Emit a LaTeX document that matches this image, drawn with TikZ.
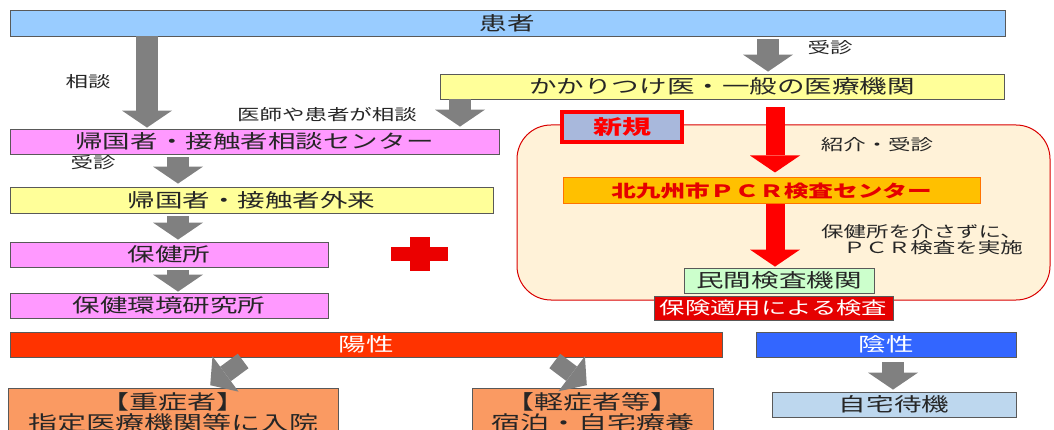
\documentclass[tikz,border=0pt]{standalone}
\usepackage{fontspec}
\newfontfamily\jp[FakeStretch=1.45]{Noto Sans CJK JP}
\usetikzlibrary{arrows.meta}

\definecolor{kanjablue}{HTML}{99CCFF}
\definecolor{boxyellow}{HTML}{FFFF99}
\definecolor{boxpink}{HTML}{FF99FF}
\definecolor{boxorange}{HTML}{FA9A62}
\definecolor{posred}{HTML}{FF3300}
\definecolor{negblue}{HTML}{3366FF}
\definecolor{homeblue}{HTML}{BDD7EE}
\definecolor{peach}{HTML}{FFF2D8}
\definecolor{pcrorange}{HTML}{FFC000}
\definecolor{labgreen}{HTML}{CCFFCC}
\definecolor{newblue}{HTML}{A8B8DC}
\definecolor{textgray}{HTML}{262626}

\tikzset{
	box/.style={draw=black!65, line width=0.8pt, inner sep=0pt, text=textgray,
		font=\jp\fontsize{19}{21}\selectfont},
	lbl/.style={inner sep=0pt, text=textgray, font=\jp\fontsize{15.5}{16}\selectfont},
	grayarrow/.style={draw=black!50, line width=22pt,
		-{Triangle[width=50pt,length=17pt,line width=0pt]}},
	diagarrow/.style={draw=black!50, line width=18pt,
		-{Triangle[width=44pt,length=19pt,line width=0pt]}},
	redarrow/.style={draw=red, line width=19pt,
		-{Triangle[width=50pt,length=17pt,line width=0pt]}},
}

\begin{document}
\begin{tikzpicture}[x=1pt,y=-1pt]
	\useasboundingbox (0,0) rectangle (1054,430);
	\clip (0,0) rectangle (1054,430);

	%new PCR route, background
	\draw[red!85!black, fill=peach, line width=1pt, rounded corners=34pt] (517,125) rectangle (1050,300);

	%left route
	\node[box, fill=kanjablue, minimum width=995, minimum height=26] (kanja) at (507.5,23) {患者};
	\node[box, fill=boxyellow, minimum width=564, minimum height=25] (kakari) at (722,86.5) {かかりつけ医・一般の医療機関};
	\node[box, fill=boxpink, minimum width=489, minimum height=25] (soudan) at (254.5,141.5) {帰国者・接触者相談センター};
	\node[box, fill=boxyellow, minimum width=483, minimum height=26] (gairai) at (251.5,200) {帰国者・接触者外来};
	\node[box, fill=boxpink, minimum width=318, minimum height=25] (hokenjo) at (169,254.5) {保健所};
	\node[box, fill=boxpink, minimum width=318, minimum height=25] (kanken) at (169,305.5) {保健環境研究所};

	%right route
	\node[box, draw=red, line width=3.5pt, fill=newblue, text=red, minimum width=120, minimum height=30,
		font=\jp\bfseries\fontsize{20}{22}\selectfont] (shinki) at (622,127) {新規};
	\node[box, draw=orange!90!red, line width=1pt, fill=pcrorange, text=red!90!black, minimum width=417, minimum height=26,
		font=\jp\bfseries\fontsize{17}{19}\selectfont] (pcr) at (771.5,191) {北九州市ＰＣＲ検査センター};
	\node[box, fill=labgreen, minimum width=190, minimum height=25] (minkan) at (779,280.5) {民間検査機関};
	\node[box, fill=red!90!black, text=white, minimum width=239, minimum height=24,
		font=\jp\fontsize{17.5}{19}\selectfont] (hoken) at (773.5,308) {保険適用による検査};

	%results
	\node[box, fill=posred, text=white, minimum width=712, minimum height=25] (yousei) at (366,344.5) {陽性};
	\node[box, fill=negblue, text=white, minimum width=260, minimum height=25] (insei) at (886,344.5) {陰性};
	\node[box, fill=boxorange, align=center, minimum width=330, minimum height=49,
		font=\jp\fontsize{20}{21}\selectfont] (juusho) at (173,412.5) {【重症者】\\指定医療機関等に入院};
	\node[box, fill=boxorange, align=center, minimum width=241, minimum height=49,
		font=\jp\fontsize{20}{21}\selectfont] (keishou) at (592.5,412.5) {【軽症者等】\\宿泊・自宅療養};
	\node[box, fill=homeblue, minimum width=244, minimum height=25] (jitaku) at (894,404.5) {自宅待機};

	%gray arrows
	\draw[grayarrow, shorten >=1pt] (kanja.south -| 147,0) -- (soudan.north -| 147,0);
	\draw[grayarrow, shorten <=3pt, shorten >=2pt] (kanja.south -| 768,0) -- (kakari.north -| 768,0);
	\draw[grayarrow, shorten >=2pt] (kakari.south -| 460,0) -- (soudan.north -| 460,0);
	\draw[grayarrow, shorten <=3pt, shorten >=3pt] (soudan.south -| 178,0) -- (gairai.north -| 178,0);
	\draw[grayarrow, shorten <=3pt, shorten >=2pt] (gairai.south -| 178,0) -- (hokenjo.north -| 178,0);
	\draw[grayarrow, shorten <=3pt, shorten >=1pt] (hokenjo.south -| 178,0) -- (kanken.north -| 178,0);
	\draw[grayarrow, shorten <=5pt, shorten >=2pt] (insei.south -| 893,0) -- (jitaku.north -| 893,0);
	\draw[diagarrow, shorten <=6pt, shorten >=4pt] (yousei.south -| 248,0) -- (juusho.north -| 207,0);
	\draw[diagarrow, shorten <=6pt, shorten >=4pt] (yousei.south -| 550,0) -- (keishou.north -| 590,0);

	%red arrows
	\draw[redarrow, shorten <=8pt, shorten >=5pt] (kakari.south -| 775,0) -- (pcr.north -| 775,0);
	\draw[redarrow, shorten >=1pt] (pcr.south -| 775,0) -- (minkan.north -| 775,0);

	%plus sign
	\fill[red!92!black] (391,247) rectangle (448,261);
	\fill[red!92!black] (410,237) rectangle (430,271);

	%arrow labels
	\node[lbl] (l1) at (88,82) {相談};
	\node[lbl] (l2) at (830,48) {受診};
	\node[lbl] (l3) at (327,115) {医師や患者が相談};
	\node[lbl] (l4) at (93,163) {受診};
	\node[lbl] (l5) at (877,145) {紹介・受診};
	\node[lbl, align=right, anchor=east] (l6) at (1023,240) {保健所を介さずに、\\ＰＣＲ検査を実施};
\end{tikzpicture}
\end{document}
